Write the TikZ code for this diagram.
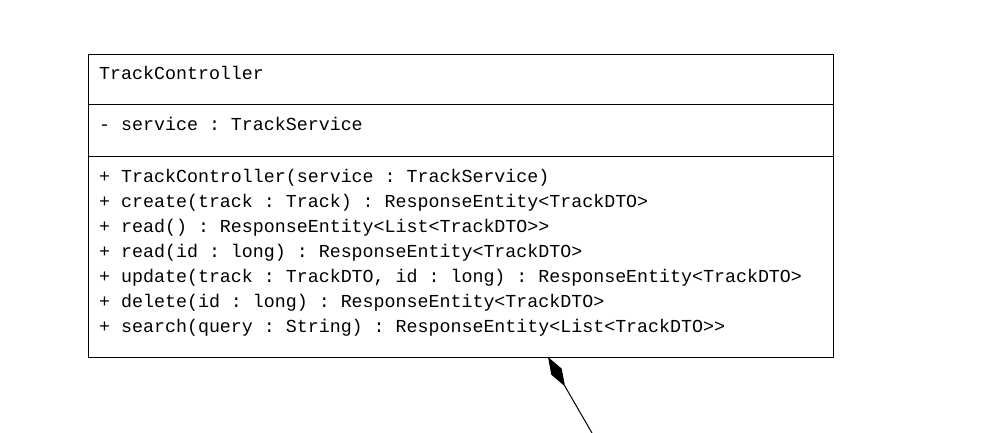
\documentclass[tikz,border=0pt]{standalone}
\usepackage{fontspec}
\setmonofont{Liberation Mono}
\usetikzlibrary{arrows.meta, positioning}

\begin{document}
\begin{tikzpicture}
  [
    x=1pt, y=-1pt,
    Part/.style={rectangle, draw=black, line width=1pt, minimum width=745pt, anchor=north west, inner sep=0pt, outer sep=0pt},
    Member/.style={anchor=base west, inner sep=0pt, font=\ttfamily\fontsize{18.3}{25}\selectfont}
  ]
  \useasboundingbox (0,0) rectangle (992,433);
  % Nodes
  \node[Part, minimum height=50pt] (head) at (88,55) {};
  \node[Part, minimum height=51pt] (fields) at (head.south west) {};
  \node[Part, minimum height=201pt] (methods) at (fields.south west) {};
  \node[Member] (title) at (99,80) {TrackController};
  \node[Member] (service) at (99,131) {- service : TrackService};
  \foreach \op [count=\i] in {
      {+ TrackController(service : TrackService)},
      {+ create(track : Track) : ResponseEntity<TrackDTO>},
      {+ read() : ResponseEntity<List<TrackDTO>>},
      {+ read(id : long) : ResponseEntity<TrackDTO>},
      {+ update(track : TrackDTO, id : long) : ResponseEntity<TrackDTO>},
      {+ delete(id : long) : ResponseEntity<TrackDTO>},
      {+ search(query : String) : ResponseEntity<List<TrackDTO>>}}
    \node[Member] (op\i) at (99,157+25*\i) {\op};
  \coordinate (whole) at ([xshift=460pt]methods.south west);
  \coordinate (part) at (592,433);
  % Lines
  \path [{Diamond[length=34pt, width=12pt]}-, draw, line width=1pt] (whole) -- (part);
\end{tikzpicture}
\end{document}
